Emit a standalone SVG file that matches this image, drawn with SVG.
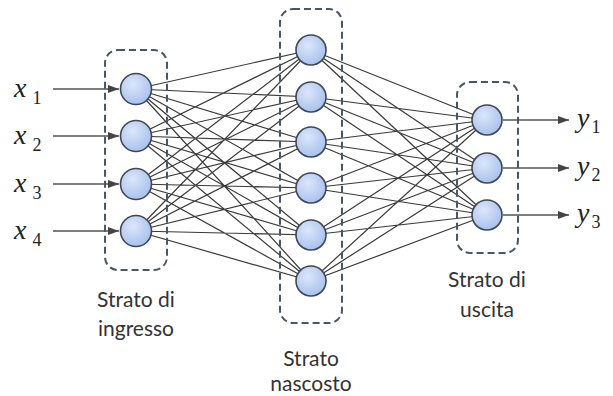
<svg xmlns="http://www.w3.org/2000/svg" width="613" height="396" viewBox="0 0 613 396">
<defs>
<radialGradient id="g" cx="0.4" cy="0.35" r="0.7">
<stop offset="0" stop-color="#dbe6fb"/>
<stop offset="1" stop-color="#a6bfec"/>
</radialGradient>
<marker id="ah" markerWidth="11" markerHeight="8" refX="11" refY="4" orient="auto" markerUnits="userSpaceOnUse">
<path d="M0,0 L11,4 L0,8 Z" fill="#444"/>
</marker>
</defs>
<style>
.n{fill:url(#g);stroke:#3e4756;stroke-width:1.6}
.e{stroke:#3a3a3a;stroke-width:1.2;fill:none}
.a{stroke:#555;stroke-width:1.6;fill:none;marker-end:url(#ah)}
.box{fill:none;stroke:#4b5566;stroke-width:2;stroke-dasharray:7,4}
.lbl{font-family:Lato,"Open Sans","Liberation Sans",sans-serif;font-size:21px;fill:#333;text-anchor:middle}
.m{font-family:"Liberation Serif","Times New Roman",serif;font-style:italic;font-size:28px;fill:#222}
.s{font-family:"Liberation Serif","Times New Roman",serif;font-size:18px;fill:#222}
</style>
<g id="connectors">
<g id="ih">
<path class="e" d="M136,89 L311,50 M136,89 L311,97 M136,89 L311,142 M136,89 L311,188 M136,89 L311,235 M136,89 L311,281
M136,136 L311,50 M136,136 L311,97 M136,136 L311,142 M136,136 L311,188 M136,136 L311,235 M136,136 L311,281
M136,184 L311,50 M136,184 L311,97 M136,184 L311,142 M136,184 L311,188 M136,184 L311,235 M136,184 L311,281
M136,231 L311,50 M136,231 L311,97 M136,231 L311,142 M136,231 L311,188 M136,231 L311,235 M136,231 L311,281"/>
</g>
<g id="ho">
<path class="e" d="M311,50 L487,120 M311,50 L487,168 M311,50 L487,215
M311,97 L487,120 M311,97 L487,168 M311,97 L487,215
M311,142 L487,120 M311,142 L487,168 M311,142 L487,215
M311,188 L487,120 M311,188 L487,168 M311,188 L487,215
M311,235 L487,120 M311,235 L487,168 M311,235 L487,215
M311,281 L487,120 M311,281 L487,168 M311,281 L487,215"/>
</g>
<line class="a" x1="53" y1="89" x2="119" y2="89"/>
<line class="a" x1="53" y1="136" x2="119" y2="136"/>
<line class="a" x1="53" y1="184" x2="119" y2="184"/>
<line class="a" x1="53" y1="231" x2="119" y2="231"/>
<line class="a" x1="503" y1="120" x2="569" y2="120"/>
<line class="a" x1="503" y1="168" x2="569" y2="168"/>
<line class="a" x1="503" y1="215" x2="569" y2="215"/>
</g>
<g id="layer-input">
<rect class="box" x="105" y="50" width="62" height="220" rx="13"/>
<text class="lbl" x="136" y="307">Strato di</text>
<text class="lbl" x="136" y="336">ingresso</text>
</g>
<g id="layer-hidden">
<rect class="box" x="280" y="9" width="62" height="314" rx="13"/>
<text class="lbl" x="311" y="366">Strato</text>
<text class="lbl" x="311" y="391">nascosto</text>
</g>
<g id="layer-output">
<rect class="box" x="457" y="82" width="61" height="171" rx="13"/>
<text class="lbl" x="487" y="287">Strato di</text>
<text class="lbl" x="487" y="317">uscita</text>
</g>
<g id="in1"><circle class="n" cx="136" cy="89" r="15.5"/></g>
<g id="in2"><circle class="n" cx="136" cy="136" r="15.5"/></g>
<g id="in3"><circle class="n" cx="136" cy="184" r="15.5"/></g>
<g id="in4"><circle class="n" cx="136" cy="231" r="15.5"/></g>
<g id="h1"><circle class="n" cx="311" cy="50" r="15"/></g>
<g id="h2"><circle class="n" cx="311" cy="97" r="15"/></g>
<g id="h3"><circle class="n" cx="311" cy="142" r="15"/></g>
<g id="h4"><circle class="n" cx="311" cy="188" r="15"/></g>
<g id="h5"><circle class="n" cx="311" cy="235" r="15"/></g>
<g id="h6"><circle class="n" cx="311" cy="281" r="15"/></g>
<g id="o1"><circle class="n" cx="487" cy="120" r="15"/></g>
<g id="o2"><circle class="n" cx="487" cy="168" r="15"/></g>
<g id="o3"><circle class="n" cx="487" cy="215" r="15"/></g>
<g id="x1"><text x="14" y="97"><tspan class="m">x</tspan><tspan class="s" dx="6" dy="7">1</tspan></text></g>
<g id="x2"><text x="14" y="144"><tspan class="m">x</tspan><tspan class="s" dx="6" dy="7">2</tspan></text></g>
<g id="x3"><text x="14" y="192"><tspan class="m">x</tspan><tspan class="s" dx="6" dy="7">3</tspan></text></g>
<g id="x4"><text x="14" y="239"><tspan class="m">x</tspan><tspan class="s" dx="6" dy="7">4</tspan></text></g>
<g id="y1"><text x="577" y="127"><tspan class="m">y</tspan><tspan class="s" dx="2" dy="6">1</tspan></text></g>
<g id="y2"><text x="577" y="175"><tspan class="m">y</tspan><tspan class="s" dx="2" dy="6">2</tspan></text></g>
<g id="y3"><text x="577" y="222"><tspan class="m">y</tspan><tspan class="s" dx="2" dy="6">3</tspan></text></g>
</svg>
